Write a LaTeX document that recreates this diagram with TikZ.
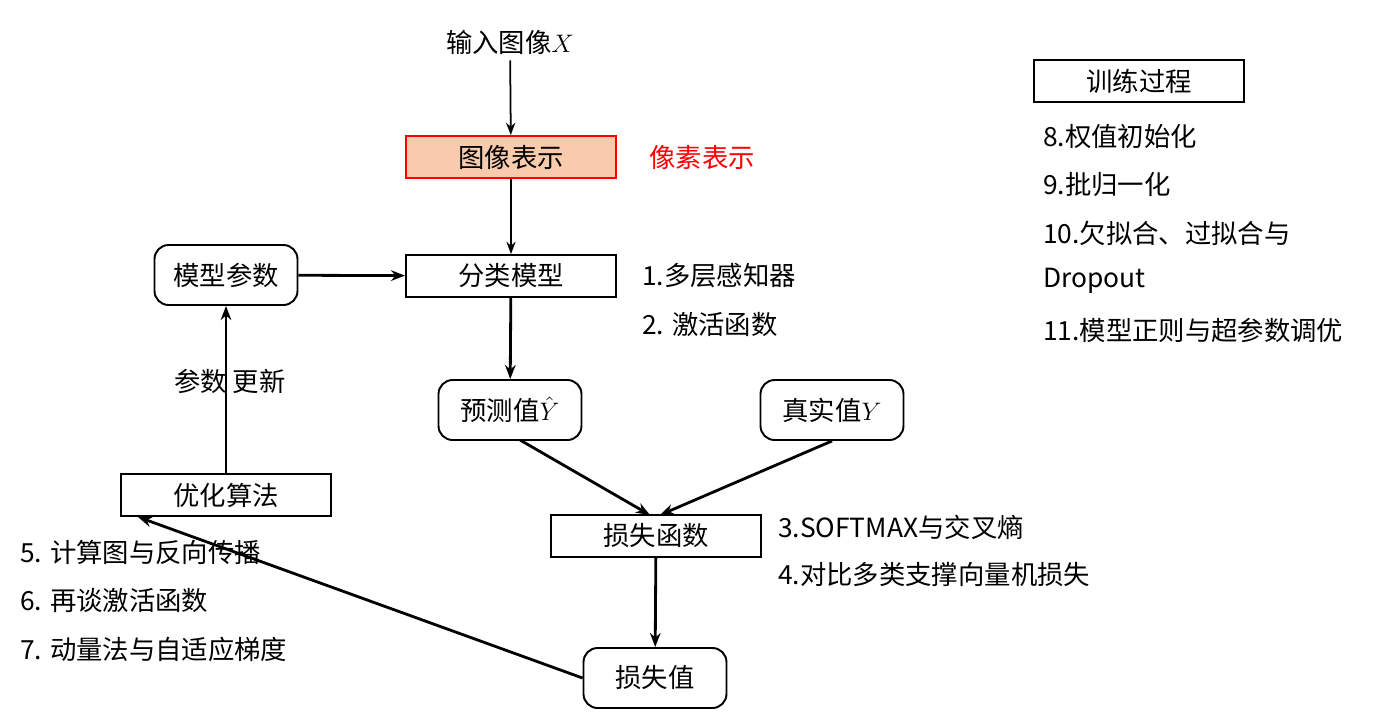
\documentclass[tikz,border=0pt]{standalone}
\usepackage{fontspec}
\setmainfont{Noto Sans CJK SC}
\usepackage{amsmath}
\usetikzlibrary{shapes, positioning, arrows.meta}
\definecolor{boxorange}{HTML}{F8CBAD}
\tikzset{
    box/.style={draw, line width=1.1pt, minimum width=4.2cm, minimum height=0.84cm, font=\fontsize{15}{17}\selectfont},
    rbox/.style={draw, line width=1.1pt, rounded corners=8pt, minimum width=2.86cm, minimum height=1.2cm, font=\fontsize{15}{17}\selectfont},
    note/.style={anchor=west, font=\fontsize{15}{17}\selectfont},
    flow/.style={-{Stealth[length=7pt]}, line width=1pt},
    bold flow/.style={-{Stealth[length=8pt]}, line width=1.6pt}
}

\begin{document}
\begin{tikzpicture}[x=0.02cm, y=-0.02cm]
        \useasboundingbox (0,0) rectangle (1384,711);
        \node[note, anchor=center] (input) at (510, 42) {输入图像$X$};
        \node[box, draw=red, fill=boxorange] (repr) at (511, 157) {图像表示};
        \node[note, anchor=center, text=red] (pixel) at (702, 157) {像素表示};
        \node[box] (model) at (511, 276) {分类模型};
        \node[rbox] (params) at (226, 275) {模型参数};
        \node[rbox] (pred) at (510, 410) {预测值$\hat{Y}$};
        \node[rbox] (truth) at (832, 410) {真实值$Y$};
        \node[box] (loss) at (656, 536) {损失函数};
        \node[rbox] (lossval) at (655, 678) {损失值};
        \node[box] (optim) at (226, 495) {优化算法};
        \node[box] (train) at (1139, 81) {训练过程};

        \node[note] (n1) at (636, 276) {1.多层感知器};
        \node[note] (n2) at (636, 325) {2. 激活函数};
        \node[note] (n3) at (772, 527) {3.SOFTMAX与交叉熵};
        \node[note] (n4) at (772, 575) {4.对比多类支撑向量机损失};
        \node[note] (n5) at (14, 552) {5. 计算图与反向传播};
        \node[note] (n6) at (14, 601) {6. 再谈激活函数};
        \node[note] (n7) at (14, 649) {7. 动量法与自适应梯度};
        \node[note] (n8) at (1037, 137) {8.权值初始化};
        \node[note] (n9) at (1037, 185) {9.批归一化};
        \node[note] (n10) at (1037, 233) {10.欠拟合、过拟合与};
        \node[note] (n10b) at (1037, 281) {Dropout};
        \node[note] (n11) at (1037, 330) {11.模型正则与超参数调优};
        \node[note, anchor=center] (update) at (230, 381) {参数 更新};

        \coordinate (predout) at (520, 440);
        \coordinate (lossinl) at (650, 515);
        \coordinate (lossinr) at (660, 515);
        \coordinate (optin) at (138, 517);
        \draw[flow] (input) -- (repr);
        \draw[flow] (repr) -- (model);
        \draw[bold flow] (params) -- (model);
        \draw[bold flow] (model) -- (pred);
        \draw[bold flow] (predout) -- (lossinl);
        \draw[bold flow] (truth.south) -- (lossinr);
        \draw[bold flow] (loss) -- (lossval);
        \draw[bold flow] (lossval.west) -- (optin);
        \draw[bold flow] (optim) -- (params);
    \end{tikzpicture}
\end{document}
